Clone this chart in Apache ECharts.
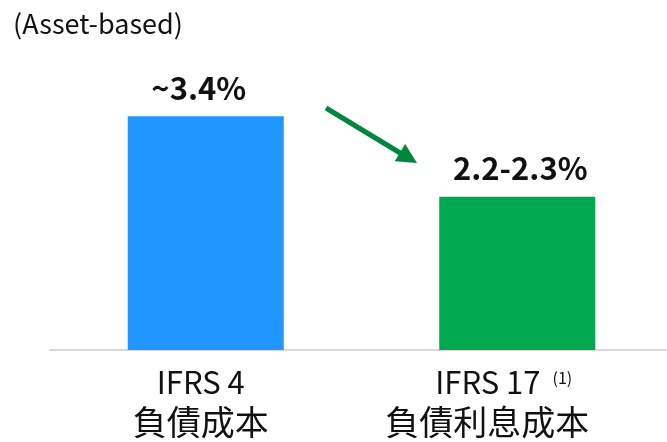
<!DOCTYPE html>
<html lang="zh-Hant">
<head>
    <meta charset="UTF-8" />
    <title>負債成本</title>
</head>
<body style="margin:0;">
<div id="main" style="width: 667px; height: 442px;"></div>
<script src="https://cdn.jsdelivr.net/npm/echarts@6/dist/echarts.min.js"></script>
<script type="text/javascript">
    // 数据
    var categories = ['IFRS 4', 'IFRS 17'];
    var subNames = ['負債成本', '負債利息成本'];
    var values = [3.4, 2.23];
    var valueLabels = ['~3.4%', '2.2-2.3%'];
    var barColors = ['#2196FF', '#00A84F'];

    var FONT = '"Noto Sans CJK TC", "Noto Sans", sans-serif';

    var myChart = echarts.init(document.getElementById('main'));

    var seriesData = values.map(function (v, i) {
        return {
            value: v,
            itemStyle: { color: barColors[i] },
            label: { offset: [i === 0 ? -7 : 3, 0] }
        };
    });

    var option = {
        animation: false,
        title: {
            text: '(Asset-based)',
            left: 8,
            top: 5,
            textStyle: { fontFamily: FONT, fontSize: 27, fontWeight: 'normal', color: '#111' }
        },
        grid: { left: 50, right: -6, top: 75, bottom: 92, outerBoundsMode: 'none', containLabel: false },
        xAxis: {
            type: 'category',
            data: [
                { value: categories[0], textStyle: { padding: [0, 10, 0, 0] } },
                { value: categories[1], textStyle: { padding: [0, 60, 0, 0] } }
            ],
            axisLine: { lineStyle: { color: '#D9D9D9', width: 2 } },
            axisTick: { show: false },
            axisLabel: {
                margin: 12,
                interval: 0,
                fontFamily: FONT,
                formatter: function (val, idx) {
                    if (idx === 1) {
                        return '{pad|}{a|' + val + '}{sup|(1)}\n{b|' + subNames[idx] + '}';
                    }
                    return '{a|' + val + '}\n{b|' + subNames[idx] + '}';
                },
                rich: {
                    a: { fontFamily: FONT, fontSize: 31, lineHeight: 40, color: '#111' },
                    b: { fontFamily: FONT, fontSize: 34, lineHeight: 41, color: '#111' },
                    pad: { width: 33 },
                    sup: { fontFamily: FONT, fontSize: 16, color: '#111', verticalAlign: 'top', padding: [8, 0, 0, 12] }
                }
            }
        },
        yAxis: {
            type: 'value',
            min: 0,
            max: 4,
            show: false,
            splitLine: { show: false }
        },
        series: [{
            type: 'bar',
            barWidth: 156,
            data: seriesData,
            label: {
                show: true,
                position: 'top',
                distance: 13,
                fontFamily: FONT,
                fontSize: 31,
                fontWeight: 'bold',
                color: '#111',
                formatter: function (p) { return valueLabels[p.dataIndex]; }
            }
        }],
        graphic: [{
            type: 'group',
            children: [
                {
                    type: 'line',
                    shape: { x1: 326, y1: 108, x2: 401, y2: 153.5 },
                    style: { stroke: '#00873E', lineWidth: 5 }
                },
                {
                    type: 'polygon',
                    shape: { points: [[417, 163], [394.7, 161.3], [405.1, 144.1]] },
                    style: { fill: '#00873E' }
                }
            ]
        }]
    };

    myChart.setOption(option);
</script>
</body>
</html>
